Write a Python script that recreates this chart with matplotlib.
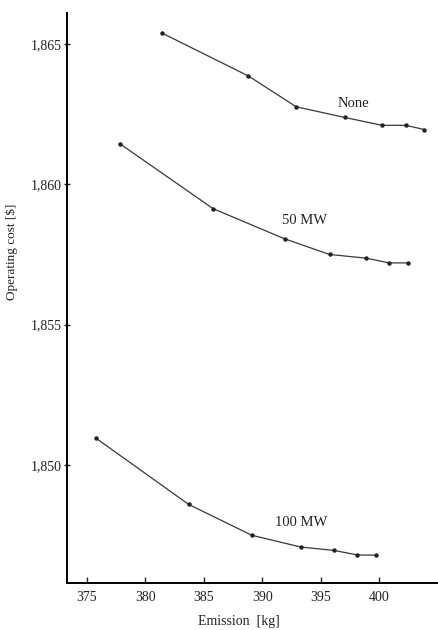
import matplotlib.pyplot as plt
from matplotlib.ticker import FuncFormatter

plt.rcParams['font.family'] = ['Liberation Serif', 'DejaVu Serif']

# emission [kg] / operating cost [$]
none_x = [381.4, 388.8, 392.9, 397.05, 400.25, 402.26, 403.85]
none_y = [1865.39, 1863.86, 1862.76, 1862.38, 1862.10, 1862.10, 1861.95]

mw50_x = [377.8, 385.8, 391.9, 395.75, 398.87, 400.85, 402.47]
mw50_y = [1861.45, 1859.13, 1858.06, 1857.5, 1857.37, 1857.2, 1857.2]

mw100_x = [375.8, 383.7, 389.1, 393.3, 396.15, 398.1, 399.7]
mw100_y = [1850.95, 1848.6, 1847.5, 1847.08, 1846.96, 1846.8, 1846.79]

series = [
  (none_x, none_y, 'None', (397.8, 1862.86)),
  (mw50_x, mw50_y, '50 MW', (393.6, 1858.7)),
  (mw100_x, mw100_y, '100 MW', (393.3, 1847.94)),
]

x_ticks = [375, 380, 385, 390, 395, 400]
y_ticks = [1850, 1855, 1860, 1865]

fig = plt.figure(figsize=(4.38, 6.30), dpi=100)
ax = fig.add_axes([67/438, 1 - 583/630, 1 - 67/438 + 0.01, (583 - 13)/630])

for xs, ys, name, pos in series:
  ax.plot(xs, ys, color='#383838', lw=0.9, marker='o', ms=2.2,
          mfc='#222222', mec='#222222')
  ax.text(pos[0], pos[1], name, fontsize=10.5, ha='center', va='center', color='#222222')

ax.set_xlim(373.3, 405.4)
ax.set_ylim(1845.8, 1866.1)
ax.set_xticks(x_ticks)
ax.set_yticks(y_ticks)
ax.yaxis.set_major_formatter(FuncFormatter(lambda v, p: f'{int(v):,}'))

ax.spines['top'].set_visible(False)
ax.spines['right'].set_visible(False)
ax.spines['left'].set_linewidth(1.4)
ax.spines['bottom'].set_linewidth(1.4)
ax.tick_params(axis='x', direction='in', length=4, width=1, labelsize=10, pad=6, colors='#222222')
ax.tick_params(axis='y', direction='inout', length=5, width=1, labelsize=10, pad=1, colors='#222222')

fig.text(239/438, 1 - 622/630, 'Emission  [kg]', fontsize=10, ha='center', va='center', color='#222222')
fig.text(12/438, 1 - 252/630, 'Operating cost [$]', fontsize=9.5, rotation=90,
         ha='center', va='center', color='#222222')

fig.savefig('out.png', dpi=100)
